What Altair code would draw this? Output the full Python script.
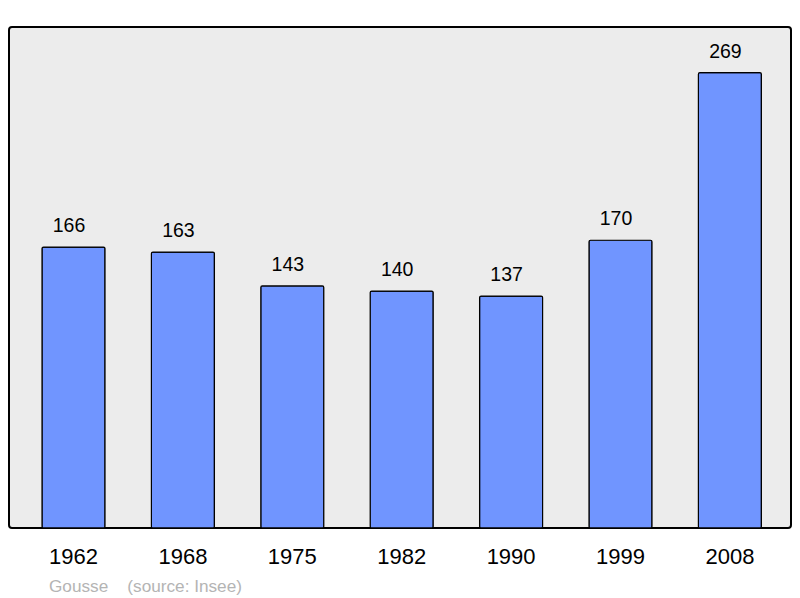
import altair as alt
import pandas as pd

years = ["1962", "1968", "1975", "1982", "1990", "1999", "2008"]
population = [166, 163, 143, 140, 137, 170, 269]

df = pd.DataFrame({"year": years, "pop": population})

x = alt.X("year:N", sort=years,
          scale=alt.Scale(range=[33, 752.4], paddingInner=0.424, paddingOuter=0),
          axis=alt.Axis(title=None, labelAngle=0, ticks=False, domain=False,
                        labelFontSize=22, labelFont="Liberation Sans",
                        labelColor="black", labelPadding=18, grid=False))
y = alt.Y("pop:Q", scale=alt.Scale(domain=[0, 296], nice=False, zero=True),
          axis=None)

bars = alt.Chart(df).mark_bar(color="#7095ff", stroke="black", strokeWidth=1.2,
                              cornerRadius=1.5).encode(x=x, y=y)
labels = alt.Chart(df).mark_text(dy=-21, dx=-4.5, fontSize=19.5, font="Liberation Sans",
                                 color="black").encode(x=x, y=y, text="pop:Q")

chart = (bars + labels).properties(
    width=782, height=501,
    background="white",
    title=alt.TitleParams("Gousse\u00a0\u00a0\u00a0 (source: Insee)",
                          orient="bottom", anchor="start", dx=40, offset=11,
                          fontSize=17.2, font="Liberation Sans", fontWeight="normal",
                          color="#b4b4b4"),
    padding={"left": 1, "top": 19, "right": 1, "bottom": 70},
    autosize=alt.AutoSizeParams(type="none"),
).configure_view(
    fill="#ececec", stroke="black", strokeWidth=2, cornerRadius=3
)

chart.save("out.html", embed_options={"renderer": "svg", "actions": False})
